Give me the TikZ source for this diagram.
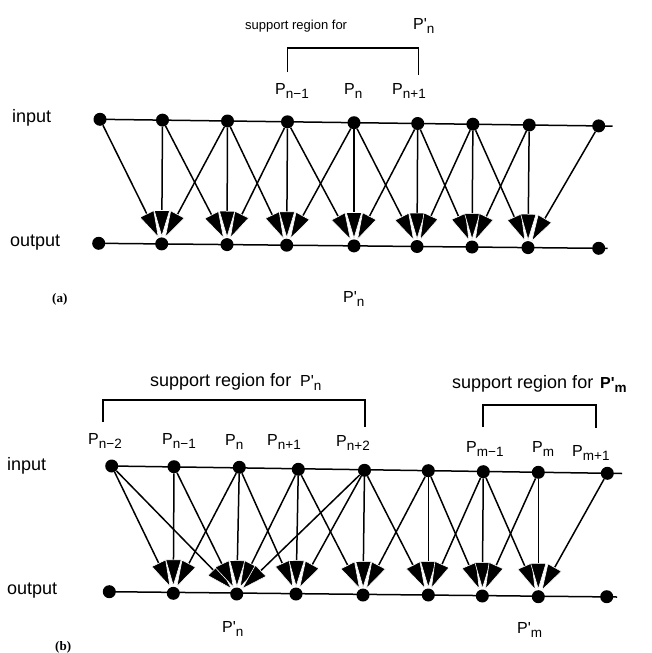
\documentclass[tikz,border=0pt]{standalone}
\usepackage{fontspec}
\setmainfont{Liberation Sans}
\newfontfamily\tagfont{Liberation Serif}
\usetikzlibrary{arrows.meta}

% P with a lowered index, and P' with a lowered index
\newcommand{\Pidx}[1]{P\raisebox{-0.3em}{\fontsize{13.5}{15}\selectfont #1}}
\newcommand{\Ppr}[1]{P\textquotesingle\raisebox{-0.3em}{\fontsize{13.5}{15}\selectfont #1}}

\tikzset{
  dot/.style={circle, fill=black, inner sep=0pt, minimum size=13pt},
  arr/.style={-{Triangle[length=27pt,width=16pt,fill=black,color=white,line width=0.6pt 0]},
              line width=1.5pt},
  rail/.style={line width=1.5pt},
  brace/.style={line width=1.4pt},
  lbl/.style={inner sep=0pt, anchor=base west},
  big/.style={lbl, font=\fontsize{18}{21}\selectfont},
  mid/.style={lbl, font=\fontsize{13}{15}\selectfont},
  plab/.style={lbl, font=\fontsize{16}{19}\selectfont},
  tag/.style={lbl, font=\fontsize{13}{15}\selectfont\tagfont\bfseries},
}

\begin{document}
\begin{tikzpicture}[x=1pt, y=-1pt]
\useasboundingbox (0,0) rectangle (652,653);

% ---------- (a) three-point support ----------
\foreach \i/\x/\y in {0/100/119.3, 1/162.5/120.1, 2/227.5/121.0, 3/287.5/121.8,
                      4/354/122.7, 5/417.7/123.5, 6/472.9/124.2, 7/529.2/125.0, 8/598.7/125.9}
  \node[dot] (ai\i) at (\x,\y) {};
\foreach \i/\x/\y in {0/98.7/243.3, 1/161.7/243.9, 2/227/244.6, 3/286.7/245.2,
                      4/354/245.9, 5/417/246.5, 6/472/247.0, 7/528/247.6, 8/598.7/248.3}
  \node[dot] (ao\i) at (\x,\y) {};
\coordinate (aiend) at (612.5,126.1);
\coordinate (aoend) at (607.5,248.4);
\draw[rail] (ai0.center) -- (aiend);
\draw[rail] (ao0.center) -- (aoend);

\foreach \s/\t in {0/1,1/1,2/1, 1/2,2/2,3/2, 2/3,3/3,4/3, 3/4,4/4,5/4,
                   4/5,5/5,6/5, 5/6,6/6,7/6, 6/7,7/7,8/7}
  \draw[arr] (ai\s) -- (ao\t);

\node[big] (ainput) at (12,122) {input};
\node[big] (aoutput) at (10,246) {output};
\node[tag] (atag) at (52,302) {(a)};
\node[plab] (apn) at (343,302) {\Ppr{n}};

\node[plab] (apn1) at (275,94) {\Pidx{n−1}};
\node[plab] (apn0) at (344,94) {\Pidx{n}};
\node[plab] (apn2) at (392,94) {\Pidx{n+1}};

\node[mid] (asup) at (245,29) {support region for};
\node[plab] (asupp) at (413,29) {\Ppr{n}};
\coordinate (abl) at (287.5,72);
\coordinate (abtl) at (287.5,48);
\coordinate (abtr) at (418.3,48);
\coordinate (abr) at (418.3,75);
\draw[brace] (abl) -- (abtl) -- (abtr) -- (abr);

% ---------- (b) five-point support ----------
\foreach \i/\x/\y in {0/111.7/466, 1/174/466.7, 2/239.3/467.3, 3/298.3/469.3,
                      4/364.5/470.3, 5/428.3/470.7, 6/483.3/471.7, 7/538.3/472.3, 8/607.3/473.3}
  \node[dot] (bi\i) at (\x,\y) {};
\foreach \i/\x/\y in {0/109.3/591.7, 1/173.3/593.3, 2/236.7/594, 3/296/594,
                      4/363/595, 5/428.3/595, 6/482.3/596, 7/538.3/596.7, 8/606.7/596.7}
  \node[dot] (bo\i) at (\x,\y) {};
\coordinate (biend) at (622,473.5);
\coordinate (boend) at (617,597);
\draw[rail] (bi0.center) -- (biend);
\draw[rail] (bo0.center) -- (boend);

\foreach \s/\t in {0/1,1/1,2/1, 0/2,1/2,2/2,3/2,4/2, 2/3,3/3,4/3, 3/4,4/4,5/4,
                   4/5,5/5,6/5, 5/6,6/6,7/6, 6/7,7/7,8/7}
  \draw[arr] (bi\s) -- (bo\t);

\node[big] (binput) at (7,470) {input};
\node[big] (boutput) at (7,594) {output};
\node[tag] (btag) at (55,650) {(b)};
\node[plab] (bpn) at (222,632) {\Ppr{n}};
\node[plab] (bpm) at (517,633) {\Ppr{m}};

\node[plab] (bpn2) at (88,444) {\Pidx{n−2}};
\node[plab] (bpn1) at (162,444) {\Pidx{n−1}};
\node[plab] (bpn0) at (225,445) {\Pidx{n}};
\node[plab] (bpn3) at (267,445) {\Pidx{n+1}};
\node[plab] (bpn4) at (336,446) {\Pidx{n+2}};
\node[plab] (bpm1) at (466,452) {\Pidx{m−1}};
\node[plab] (bpm0) at (532,452) {\Pidx{m}};
\node[plab] (bpm2) at (572,456) {\Pidx{m+1}};

\node[big] (bsupn) at (150,386) {support region for};
\node[plab] (bsupnp) at (300,386) {\Ppr{n}};
\node[big] (bsupm) at (452,388) {support region for};
\node[plab] (bsupmp) at (600,388) {\bfseries\Ppr{m}};

\coordinate (bbl) at (103,422);
\coordinate (bbtl) at (103,400);
\coordinate (bbtr) at (365,400);
\coordinate (bbr) at (365,427);
\draw[brace] (bbl) -- (bbtl) -- (bbtr) -- (bbr);
\coordinate (bml) at (483,427);
\coordinate (bmtl) at (483,405);
\coordinate (bmtr) at (596,405);
\coordinate (bmr) at (596,428);
\draw[brace] (bml) -- (bmtl) -- (bmtr) -- (bmr);
\end{tikzpicture}
\end{document}
